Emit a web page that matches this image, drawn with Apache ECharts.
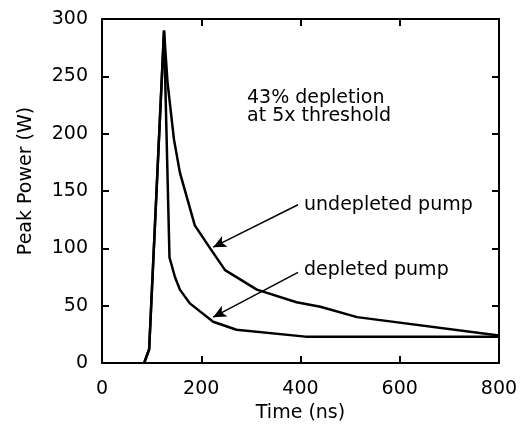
<!DOCTYPE html>
<html>
<head>
<meta charset="utf-8">
<script src="https://cdn.jsdelivr.net/npm/echarts@6/dist/echarts.min.js"></script>
<style>html,body{margin:0;padding:0;background:#fff}#c{width:529px;height:431px}</style>
</head>
<body>
<div id="c"></div>
<script>
// Data (time in ns, peak power in W)
var undepletedTime  = [85, 95, 125, 132, 145, 157, 187, 218, 248, 312, 392, 440, 514, 800];
var undepletedPower = [0, 12, 290, 245, 195, 166, 120, 100, 81, 64, 53, 49, 40, 24];
var depletedTime  = [85, 95, 125, 136, 147, 157, 177, 224, 271, 410, 800];
var depletedPower = [0, 12, 290, 92, 75, 64, 52, 36, 29, 23, 23];
var xTicks = [0, 200, 400, 600, 800];
var yTicks = [0, 50, 100, 150, 200, 250, 300];
var noteLine1 = '43% depletion';
var noteLine2 = 'at 5x threshold';
var labelUndepleted = 'undepleted pump';
var labelDepleted = 'depleted pump';
// arrow annotations: [start, end] in data coords
var arrowUndepleted = [[395, 138], [224, 101]];
var arrowDepleted = [[395, 79], [224, 40]];

function pairs(xs, ys) { return xs.map(function (x, i) { return [x, ys[i]]; }); }

var FONT = '"DejaVu Sans", "Liberation Sans", Arial, sans-serif';
var FS = 19;
var chart = echarts.init(document.getElementById('c'), null, {renderer: 'canvas'});
function axisLine() { return {show: true, onZero: false, lineStyle: {color: '#000', width: 2}}; }
function tick() { return {show: true, inside: true, length: 7, lineStyle: {color: '#000', width: 2}}; }
function arrowLine(a) {
  return [{coord: a[0], symbol: 'none'}, {coord: a[1], symbol: 'arrow'}];
}
chart.setOption({
  animation: false,
  backgroundColor: '#fff',
  grid: {left: 102, right: 30, top: 19, bottom: 68},
  xAxis: [{
    type: 'value', min: 0, max: 800, interval: 200,
    name: 'Time (ns)', nameLocation: 'middle', nameGap: 35,
    nameTextStyle: {fontFamily: FONT, fontSize: FS, color: '#000'},
    axisLine: axisLine(), axisTick: tick(), splitLine: {show: false},
    axisLabel: {fontFamily: FONT, fontSize: FS, color: '#000', margin: 17,
      formatter: function (v) { return xTicks.indexOf(v) >= 0 ? String(v) : ''; }}
  }, {
    type: 'value', position: 'top', min: 0, max: 800, interval: 200,
    axisLine: axisLine(), axisTick: tick(), splitLine: {show: false}, axisLabel: {show: false}
  }],
  yAxis: [{
    type: 'value', min: 0, max: 300, interval: 50,
    name: 'Peak Power (W)', nameLocation: 'middle', nameGap: 66,
    nameTextStyle: {fontFamily: FONT, fontSize: FS, color: '#000', padding: [0, 0, 0, 20]},
    axisLine: axisLine(), axisTick: tick(), splitLine: {show: false},
    axisLabel: {fontFamily: FONT, fontSize: FS, color: '#000', margin: 14,
      formatter: function (v) { return yTicks.indexOf(v) >= 0 ? String(v) : ''; }}
  }, {
    type: 'value', position: 'right', min: 0, max: 300, interval: 50,
    axisLine: axisLine(), axisTick: tick(), splitLine: {show: false}, axisLabel: {show: false}
  }],
  series: [{
    name: 'undepleted', type: 'line', data: pairs(undepletedTime, undepletedPower),
    showSymbol: false, symbol: 'none', lineStyle: {color: '#000', width: 2.5},
    markLine: {silent: true, symbolSize: [9, 13], lineStyle: {color: '#000', width: 1.5, type: 'solid'},
      label: {show: false}, data: [arrowLine(arrowUndepleted), arrowLine(arrowDepleted)]}
  }, {
    name: 'depleted', type: 'line', data: pairs(depletedTime, depletedPower),
    showSymbol: false, symbol: 'none', lineStyle: {color: '#000', width: 2.5}
  }],
  graphic: [
    {type: 'text', x: 247, y: 98, style: {text: noteLine1, font: FS + 'px ' + FONT, fill: '#000', verticalAlign: 'middle'}},
    {type: 'text', x: 247, y: 116, style: {text: noteLine2, font: FS + 'px ' + FONT, fill: '#000', verticalAlign: 'middle'}},
    {type: 'text', x: 304, y: 205, style: {text: labelUndepleted, font: FS + 'px ' + FONT, fill: '#000', verticalAlign: 'middle'}},
    {type: 'text', x: 304, y: 270, style: {text: labelDepleted, font: FS + 'px ' + FONT, fill: '#000', verticalAlign: 'middle'}}
  ]
});
</script>
</body>
</html>
